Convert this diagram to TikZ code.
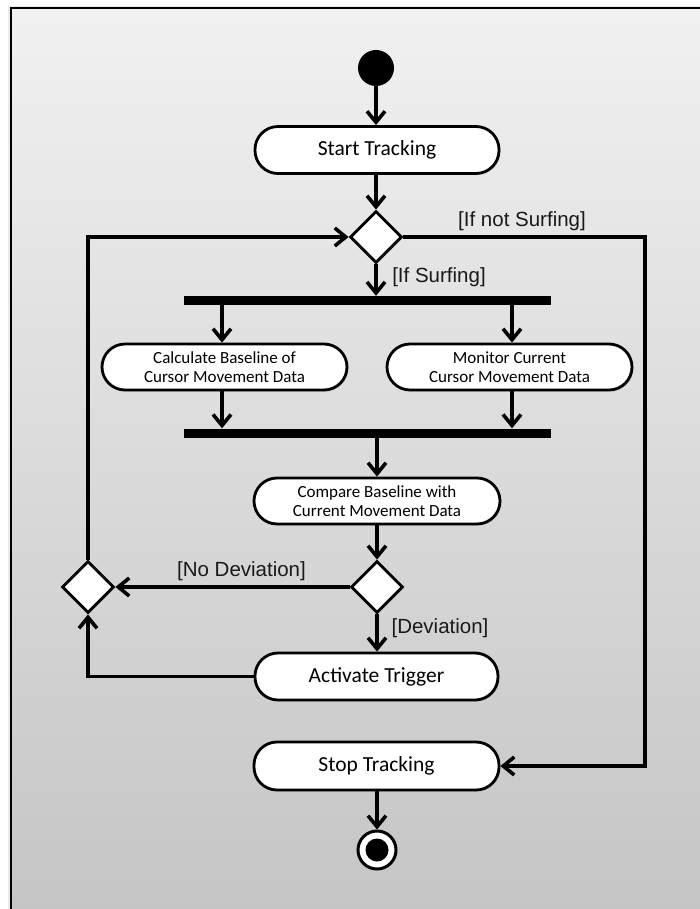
\documentclass[tikz,border=0pt]{standalone}
\usepackage{fontspec}
\setmainfont{Carlito}
\newfontfamily\guardfont{Liberation Sans}
\usetikzlibrary{arrows.meta,shapes.geometric,shadows}
\definecolor{bgtop}{RGB}{241,241,241}
\definecolor{bgbot}{RGB}{196,196,196}
\begin{document}
\begin{tikzpicture}[x=1pt,y=-1pt,
  conn/.style={line width=3.6pt,-{Straight Barb[length=11pt,width=18pt]}},
  actbox/.style={draw,line width=2.8pt,fill=white,rounded corners=23pt,
     minimum width=244pt,minimum height=47pt,inner sep=0pt,align=center,
     drop shadow={opacity=0.25,shadow xshift=1.5pt,shadow yshift=-1.5pt}},
  bigtext/.style={font=\fontsize{21.5}{24}\selectfont},
  smalltext/.style={font=\fontsize{17}{19}\selectfont},
  decision/.style={draw,diamond,line width=2.8pt,fill=white,inner sep=0pt,
     minimum width=52pt,minimum height=52pt,
     drop shadow={opacity=0.25,shadow xshift=1.5pt,shadow yshift=-1.5pt}},
  bar/.style={fill=black,inner sep=0pt,minimum width=367pt,minimum height=9pt},
  guard/.style={font=\guardfont\fontsize{20.5}{24}\selectfont,text=black!90,inner sep=0pt}
]
\useasboundingbox (0,0) rectangle (700,909);
\begin{scope}
\clip (0,0) rectangle (700,909);
\fill[black!8] (8,6) rectangle (720,930);
\shade[top color=bgtop,bottom color=bgbot] (11,8) rectangle (720,930);
\draw[line width=2.5pt] (11,930) -- (11,8) -- (720,8);
\end{scope}

% nodes
\node[circle,fill=black,minimum size=36pt,inner sep=0pt] (start) at (376,68) {};
\node[actbox,bigtext] (st) at (377,150) {Start Tracking};
\node[decision] (d1) at (376,237) {};
\node[bar] (fork) at (367.5,300.5) {};
\node[actbox,smalltext,minimum width=245pt,minimum height=46pt] (b1) at (224.5,367) {Calculate Baseline of\\Cursor Movement Data};
\node[actbox,smalltext,minimum width=245pt,minimum height=46pt] (b2) at (509.5,367) {Monitor Current\\Cursor Movement Data};
\node[bar] (join) at (367.5,433) {};
\node[actbox,smalltext,minimum width=246pt,minimum height=46pt] (cmp) at (377,501) {Compare Baseline with\\Current Movement Data};
\node[decision] (d2) at (377,587) {};
\node[decision] (ld) at (88,587) {};
\node[actbox,bigtext,minimum width=243pt] (at) at (376.5,676.5) {Activate Trigger};
\node[actbox,bigtext,minimum width=245pt,minimum height=48pt] (stop) at (376.5,766) {Stop Tracking};
\node[circle,draw,line width=3pt,fill=white,minimum size=38pt,inner sep=0pt] (end) at (377,850) {};
\fill (end.center) circle (11.5pt);
\coordinate (rx) at (645,237);

% guards
\node[guard] (g1) at (522,221) {[If not Surfing]};
\node[guard] (g2) at (439,277) {[If Surfing]};
\node[guard] (g3) at (241.5,571) {[No Deviation]};
\node[guard] (g4) at (440,628) {[Deviation]};

% connectors
\draw[conn] (start.south) -- (start.south |- st.north);
\draw[conn] (st.south -| d1.north) -- (d1.north);
\draw[conn] (d1.east) -- (rx) |- (stop.east);
\draw[conn] (ld.north) -- (ld.north |- d1.west) -- (d1.west);
\draw[conn] (d1.south) -- (d1.south |- fork.north);
\draw[conn] (fork.south -| 222,0) -- (222,0 |- b1.north);
\draw[conn] (fork.south -| 512,0) -- (512,0 |- b2.north);
\draw[conn] (222,0 |- b1.south) -- (222,0 |- join.north);
\draw[conn] (512,0 |- b2.south) -- (512,0 |- join.north);
\draw[conn] (cmp.north |- join.south) -- (cmp.north);
\draw[conn] (cmp.south -| d2.north) -- (d2.north);
\draw[conn] (d2.west) -- (ld.east);
\draw[conn] (d2.south) -- (d2.south |- at.north);
\draw[conn] (at.west) -- (ld.south |- at.west) -- (ld.south);
\draw[conn] (stop.south -| end.north) -- (end.north);
\end{tikzpicture}
\end{document}
